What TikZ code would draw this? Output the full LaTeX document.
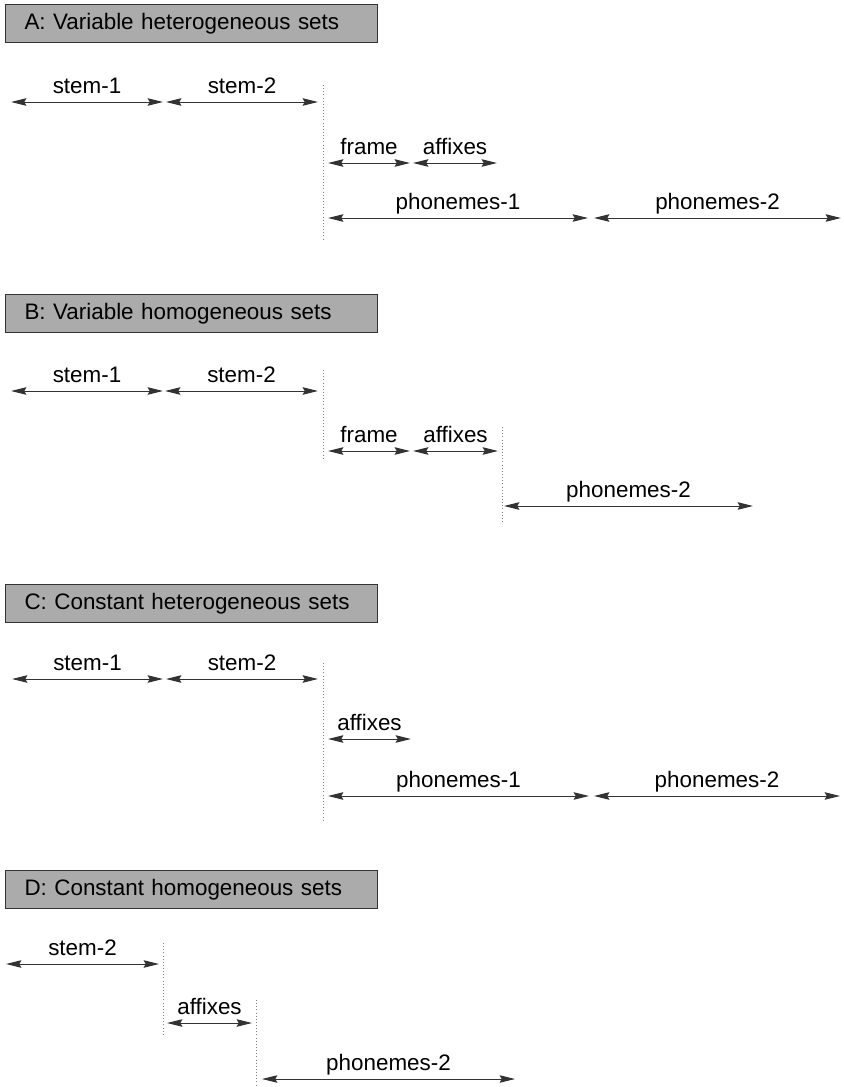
\documentclass[tikz,border=0pt]{standalone}
\usepackage{fontspec}
\setmainfont{Liberation Sans}
\usetikzlibrary{arrows.meta}

\definecolor{ink}{HTML}{333333}
\definecolor{boxfill}{HTML}{ABABAB}

\tikzset{
  px/.style={x=0.75pt, y=-0.75pt},
  titlebox/.style={draw=ink, line width=0.8pt, fill=boxfill, anchor=north west,
    minimum width=372*0.75pt, minimum height=38*0.75pt, text width=334*0.75pt,
    inner xsep=19*0.75pt, inner ysep=0pt, align=left,
    font=\fontsize{16.8}{18}\selectfont},
  span/.style={draw=ink, line width=0.7pt,
    {Stealth[length=11.5pt, width=5.6pt, inset=1.5pt]}-{Stealth[length=11.5pt, width=5.6pt, inset=1.5pt]}},
  spanlabel/.style={anchor=base, yshift=8.5*0.75pt, inner sep=0pt,
    font=\fontsize{16.8}{18}\selectfont},
  guide/.style={draw=gray, line width=0.7pt, dash pattern=on 0.75pt off 1.6pt}
}

% \interval{name}{x left}{x right}{y}{label}
\newcommand{\interval}[5]{%
  \coordinate (#1-l) at (#2,#4);
  \coordinate (#1-r) at (#3,#4);
  \draw[span] (#1-l) -- node[spanlabel] (#1-t) {#5} (#1-r);
}
% \guideline{name}{x}{y top}{y bottom}
\newcommand{\guideline}[4]{%
  \coordinate (#1-a) at (#2,#3);
  \coordinate (#1-b) at (#2,#4);
  \draw[guide] (#1-a) -- (#1-b);
}

\begin{document}
\begin{tikzpicture}[px]
\useasboundingbox (0,0) rectangle (843,1087);

% A: variable heterogeneous sets
\node[titlebox] (titleA) at (5,4) {A: Variable heterogeneous sets};
\interval{aS1}{11}{163}{102}{stem-1}
\interval{aS2}{166}{318}{102}{stem-2}
\guideline{aG1}{323}{85}{240}
\interval{aF}{328}{410}{163}{frame}
\interval{aX}{413}{497}{163}{affixes}
\interval{aP1}{328}{588}{218}{phonemes-1}
\interval{aP2}{594}{841}{218}{phonemes-2}

% B: variable homogeneous sets
\node[titlebox] (titleB) at (5,294) {B: Variable homogeneous sets};
\interval{bS1}{11}{163}{391}{stem-1}
\interval{bS2}{165}{318}{391}{stem-2}
\guideline{bG1}{323}{370}{460}
\interval{bF}{328}{410}{451}{frame}
\interval{bX}{413}{498}{451}{affixes}
\guideline{bG2}{502}{427}{524}
\interval{bP2}{504}{753}{506}{phonemes-2}

% C: constant heterogeneous sets
\node[titlebox] (titleC) at (5,584) {C: Constant heterogeneous sets};
\interval{cS1}{12}{163}{679}{stem-1}
\interval{cS2}{166}{318}{679}{stem-2}
\guideline{cG1}{323}{663}{822}
\interval{cX}{328}{411}{739}{affixes}
\interval{cP1}{328}{589}{796}{phonemes-1}
\interval{cP2}{594}{840}{796}{phonemes-2}

% D: constant homogeneous sets
\node[titlebox] (titleD) at (5,870) {D: Constant homogeneous sets};
\interval{dS2}{6}{159}{964}{stem-2}
\guideline{dG1}{163}{943}{1035}
\interval{dX}{167}{252}{1023}{affixes}
\guideline{dG2}{256}{1000}{1087}
\interval{dP2}{262}{515}{1079}{phonemes-2}
\end{tikzpicture}
\end{document}
